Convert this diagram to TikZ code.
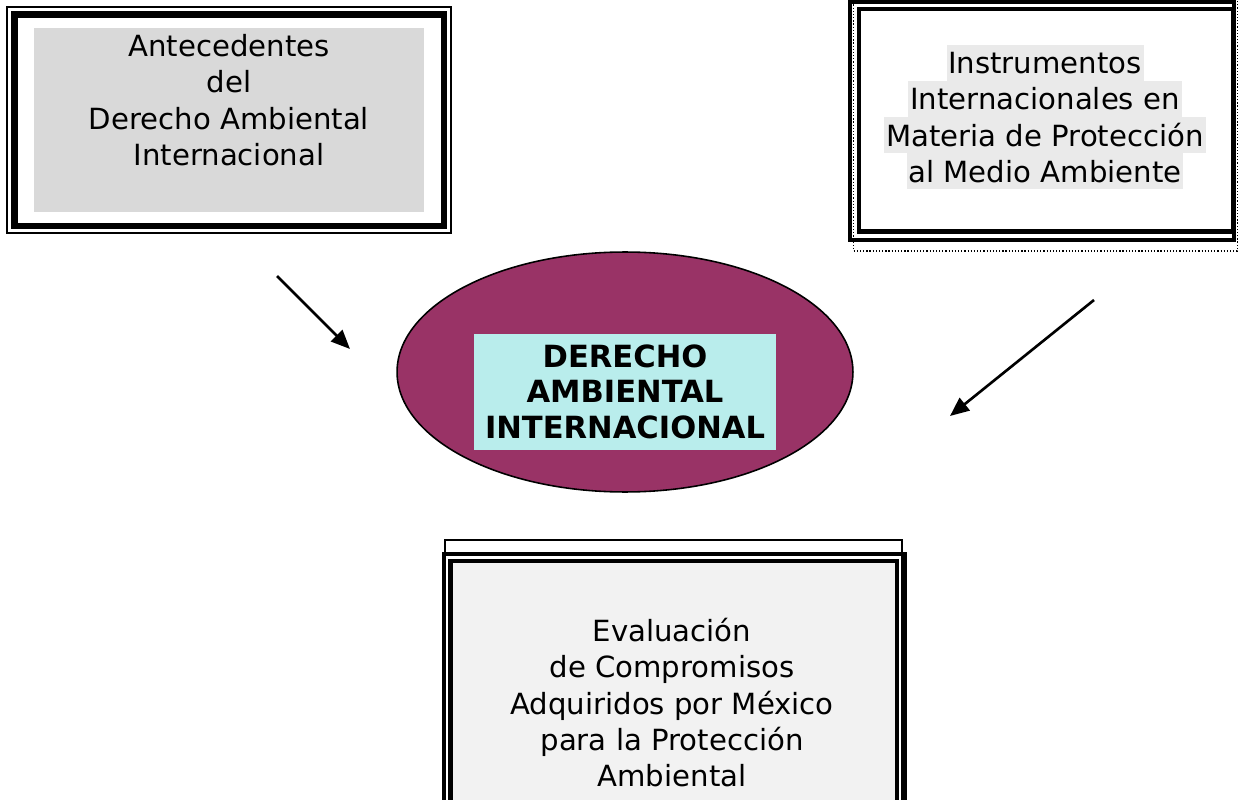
\documentclass[tikz,border=0pt]{standalone}
\usepackage{fontspec}
\setmainfont{DejaVu Sans}
\usepackage{xcolor}
\usepackage{tikz}
\usetikzlibrary{arrows.meta,shapes.geometric}
\definecolor{plum}{HTML}{993366}
\definecolor{aqua}{HTML}{B9EDEC}
\definecolor{greyA}{HTML}{D9D9D9}
\definecolor{greyB}{HTML}{EAEAEA}
\definecolor{greyC}{HTML}{F2F2F2}
\newcommand{\lnstrut}{\rule[-0.14cm]{0pt}{0.72cm}}
\newcommand{\hlline}[1]{{\fboxsep=0pt\colorbox{greyB}{\lnstrut\kern1pt#1\kern1pt}}}
\tikzset{
  hair/.style={draw=black, line width=0.6pt},
  heavy/.style={draw=black, line width=2.4pt},
  heavier/.style={draw=black, line width=3.9pt},
  dots/.style={draw=black, line width=0.7pt, dash pattern=on 0.7pt off 1.1pt},
  txt/.style={align=center, inner sep=0pt, font=\fontsize{16.6}{20.5}\selectfont},
  ttl/.style={align=center, fill=aqua, inner xsep=0pt, inner ysep=0.095cm,
    minimum width=6.04cm, font=\bfseries\fontsize{17.4}{20.2}\selectfont},
  arr/.style={draw=black, line width=1.5pt, -{Triangle[length=0.38cm, width=0.32cm]}},
}

\begin{document}
\lineskiplimit=-3pt
\begin{tikzpicture}[x=0.02cm, y=-0.02cm]
  \useasboundingbox (0,0) rectangle (1240,800);
  \clip (0,0) rectangle (1240,800);
  % left box
  \draw[hair] (7,7) rectangle (451,233);
  \draw[heavier] (14.5,14.5) rectangle (444,226);
  \fill[greyA] (34,28) rectangle (424,212);
  \node[txt] (antec) at (229,100)
    {\lnstrut Antecedentes\\del\\Derecho Ambiental\\Internacional\lnstrut};
  % right box
  \draw[dots] (853.5,-5) rectangle (1237.5,251);
  \draw[heavy] (850,1.5) rectangle (1234,240);
  \draw[heavy] (859,9) rectangle (1233,231.5);
  \node[txt] (instr) at (1045,117)
    {\hlline{Instrumentos}\\\hlline{Internacionales en}\\
     \hlline{Materia de Protección}\\\hlline{al Medio Ambiente}};
  % bottom box
  \draw[hair] (445,540) rectangle (902,830);
  \draw[heavy] (444,554) rectangle (905,830);
  \fill[greyC] (450.5,561) rectangle (897,830);
  \draw[heavy] (450.5,561) rectangle (897,830);
  \node[txt] (evalu) at (672,703)
    {\lnstrut Evaluación\\de Compromisos\\Adquiridos por México\\
     para la Protección\\Ambiental\lnstrut};
  % centre
  \node[ellipse, draw=black, line width=0.9pt, fill=plum, inner sep=0pt,
    minimum width=9.12cm, minimum height=4.8cm] (core) at (625,372) {};
  \node[ttl] (title) at (625,392)
    {\rule{0pt}{0.57cm}DERECHO\\AMBIENTAL\\INTERNACIONAL\rule[-0.14cm]{0pt}{0.14cm}};
  % arrows
  \coordinate (antec-t) at (277,276);
  \coordinate (antec-h) at (350,349);
  \coordinate (instr-t) at (1094,300);
  \coordinate (instr-h) at (950,416);
  \draw[arr] (antec-t) -- (antec-h);
  \draw[arr] (instr-t) -- (instr-h);
\end{tikzpicture}
\end{document}
